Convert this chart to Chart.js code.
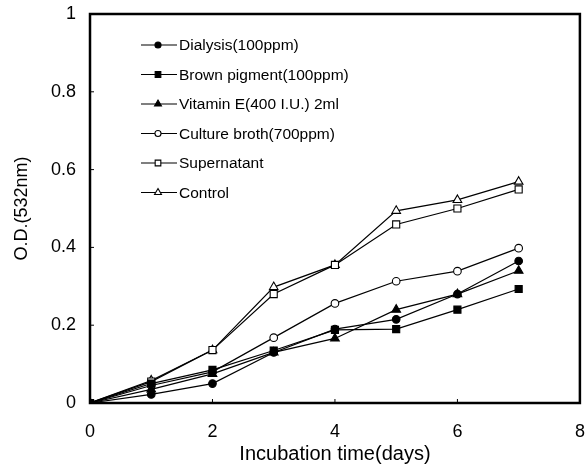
<!DOCTYPE html>
<html>
<head>
<meta charset="utf-8">
<title>O.D. vs incubation time</title>
<script src="https://cdn.jsdelivr.net/npm/chart.js@4.4.1/dist/chart.umd.min.js"></script>
<style>
  html, body { margin: 0; padding: 0; background: #fff; }
  #wrap { width: 586px; height: 466px; }
</style>
</head>
<body>
<div id="wrap"><canvas id="odChart" width="586" height="466"></canvas></div>
<script>
// Incubation time (days) and O.D. at 532nm for each sample
var days = [0, 1, 2, 3, 4, 5, 6, 7];
var dialysis    = [0, 0.022, 0.050, 0.130, 0.190, 0.215, 0.280, 0.365];
var brownPigm   = [0, 0.050, 0.085, 0.135, 0.188, 0.190, 0.240, 0.293];
var vitaminE    = [0, 0.035, 0.075, 0.130, 0.166, 0.240, 0.280, 0.340];
var cultureBrth = [0, 0.045, 0.080, 0.168, 0.256, 0.313, 0.339, 0.398];
var supernatant = [0, 0.055, 0.136, 0.280, 0.355, 0.459, 0.500, 0.549];
var control     = [0, 0.058, 0.136, 0.298, 0.355, 0.494, 0.522, 0.569];

var seriesNames = ['Dialysis(100ppm)', 'Brown pigment(100ppm)', 'Vitamin E(400 I.U.) 2ml',
                   'Culture broth(700ppm)', 'Supernatant', 'Control'];
var xTicks = [0, 2, 4, 6, 8];
var yTicks = [0, 0.2, 0.4, 0.6, 0.8, 1];

var FONT = '"Liberation Sans", Arial, sans-serif';

function toPoints(values) {
    return values.map(function(v, i) { return { x: days[i], y: v }; });
}

function series(label, values, style, filled, radius) {
    return {
        label: label,
        data: toPoints(values),
        borderColor: '#000',
        borderWidth: 1.2,
        backgroundColor: filled ? '#000' : '#fff',
        pointStyle: style,
        pointRadius: radius,
        pointBorderWidth: 1.1,
        pointBorderColor: '#000',
        pointBackgroundColor: filled ? '#000' : '#fff',
        tension: 0,
        fill: false
    };
}

// legend drawn inside the plot, top-left, like the original figure
var insideLegend = {
    id: 'insideLegend',
    afterDatasetsDraw: function(chart) {
        var ctx = chart.ctx;
        ctx.save();
        ctx.font = '15.5px ' + FONT;
        ctx.textBaseline = 'middle';
        chart.data.datasets.forEach(function(ds, i) {
            var y = 45 + i * 29.5;
            ctx.strokeStyle = '#000';
            ctx.lineWidth = 1.2;
            ctx.beginPath();
            ctx.moveTo(141, y);
            ctx.lineTo(177, y);
            ctx.stroke();
            ctx.fillStyle = ds.pointBackgroundColor;
            ctx.lineWidth = 1.1;
            Chart.helpers.drawPoint(ctx, {
                pointStyle: ds.pointStyle,
                radius: ds.pointRadius * 0.8,
                borderWidth: 1.1
            }, 158, y);
            ctx.fillStyle = '#000';
            ctx.fillText(ds.label, 179, y + 1);
        });
        ctx.restore();
    }
};

// box frame plus short inward tick marks
var frame = {
    id: 'frame',
    afterDraw: function(chart) {
        var ctx = chart.ctx, a = chart.chartArea;
        var xs = chart.scales.x, ys = chart.scales.y;
        ctx.save();
        ctx.strokeStyle = '#000';
        ctx.lineWidth = 1;
        yTicks.forEach(function(t) {
            var py = ys.getPixelForValue(t);
            ctx.beginPath(); ctx.moveTo(a.left, py); ctx.lineTo(a.left + 4, py); ctx.stroke();
        });
        xTicks.forEach(function(t) {
            var px = xs.getPixelForValue(t);
            ctx.beginPath(); ctx.moveTo(px, a.bottom); ctx.lineTo(px, a.bottom - 4); ctx.stroke();
        });
        ctx.lineWidth = 2.5;
        ctx.strokeRect(a.left, a.top, a.right - a.left, a.bottom - a.top);
        ctx.restore();
    }
};

var ctxOD = document.getElementById('odChart').getContext('2d');
var odChart = new Chart(ctxOD, {
    type: 'line',
    data: {
        datasets: [
            series(seriesNames[0], dialysis, 'circle', true, 3.8),
            series(seriesNames[1], brownPigm, 'rect', true, 5),
            series(seriesNames[2], vitaminE, 'triangle', true, 5),
            series(seriesNames[3], cultureBrth, 'circle', false, 3.8),
            series(seriesNames[4], supernatant, 'rect', false, 5),
            series(seriesNames[5], control, 'triangle', false, 5)
        ]
    },
    options: {
        responsive: false,
        animation: false,
        devicePixelRatio: 1,
        layout: { padding: { left: 0, top: 14, right: 6, bottom: 0 } },
        plugins: {
            legend: { display: false },
            tooltip: { enabled: false }
        },
        scales: {
            x: {
                type: 'linear',
                min: 0,
                max: 8,
                afterBuildTicks: function(scale) {
                    scale.ticks = xTicks.map(function(v) { return { value: v }; });
                },
                afterFit: function(scale) {
                    scale.height = 63;
                    scale.paddingLeft = 0;
                    scale.paddingRight = 0;
                },
                grid: { display: false, drawTicks: false },
                border: { display: false },
                ticks: {
                    padding: 18,
                    color: '#000',
                    font: { family: FONT, size: 18 },
                    callback: function(v) { return String(v); }
                },
                title: {
                    display: true,
                    text: 'Incubation time(days)',
                    color: '#000',
                    font: { family: FONT, size: 20 },
                    padding: { top: 0, bottom: 0 }
                }
            },
            y: {
                type: 'linear',
                min: 0,
                max: 1,
                afterBuildTicks: function(scale) {
                    scale.ticks = yTicks.map(function(v) { return { value: v }; });
                },
                afterFit: function(scale) {
                    scale.width = 90;
                    scale.paddingTop = 0;
                    scale.paddingBottom = 0;
                },
                grid: { display: false, drawTicks: false },
                border: { display: false },
                ticks: {
                    padding: 14,
                    color: '#000',
                    font: { family: FONT, size: 18 },
                    callback: function(v) { return String(+v.toFixed(1)); }
                },
                title: {
                    display: true,
                    text: 'O.D.(532nm)',
                    color: '#000',
                    font: { family: FONT, size: 18 },
                    padding: { top: 11, bottom: 0 }
                }
            }
        }
    },
    plugins: [insideLegend, frame]
});
</script>
</body>
</html>
